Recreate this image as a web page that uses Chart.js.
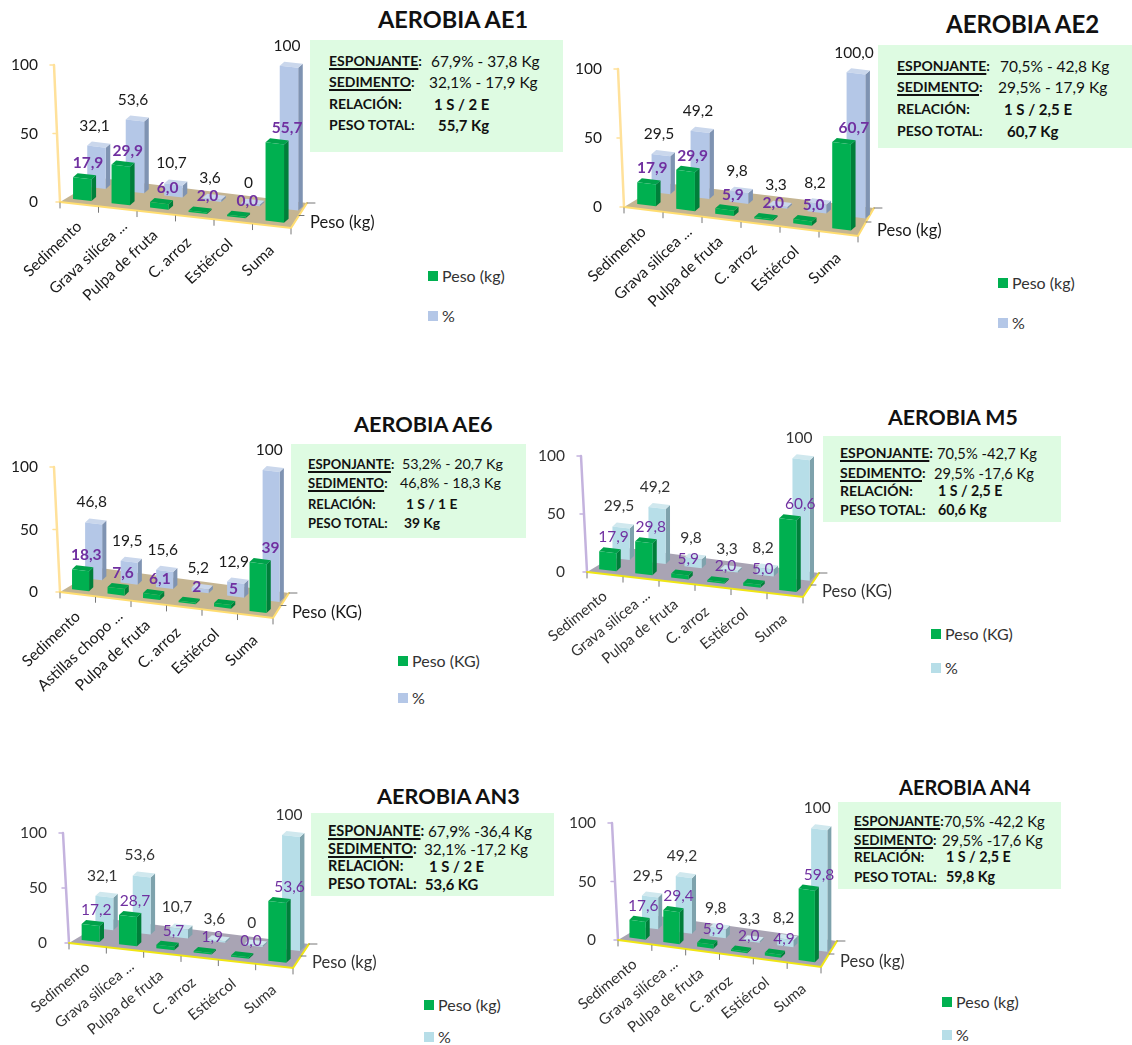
<!DOCTYPE html>
<html>
<head>
<meta charset="utf-8">
<title>Aerobia</title>
<script src="https://cdn.jsdelivr.net/npm/chart.js@4"></script>
<style>
  html, body { margin: 0; background: #fff; }
  #page { position: relative; width: 1132px; height: 1045px; overflow: hidden; font-family: Lato, sans-serif; color: #111; }
  #page canvas { position: absolute; }
  .title { position: absolute; font-weight: 700; white-space: nowrap; line-height: 1; }
  .box { position: absolute; background: #DEFBE2; }
  .txt { position: absolute; white-space: nowrap; line-height: 18px; }
  .txt.b { font-weight: 700; }
  .txt u { text-underline-offset: 2px; text-decoration-thickness: 1.5px; }
  .sq { position: absolute; width: 10px; height: 10px; }
  .lg { position: absolute; white-space: nowrap; line-height: 18px; font-size: 16px; color: #333; }
</style>
</head>
<body>
<div id="page"></div>
<script>
// categories
const categories = ['Sedimento', 'Grava silícea ...', 'Pulpa de fruta', 'C. arroz', 'Estiércol', 'Suma'];
const categoriesAE6 = ['Sedimento', 'Astillas chopo ...', 'Pulpa de fruta', 'C. arroz', 'Estiércol', 'Suma'];

// series values
const pesoAE1 = [17.9, 29.9, 6.0, 2.0, 0.0, 55.7];
const pctAE1 = [32.1, 53.6, 10.7, 3.6, 0, 100];
const pesoAE2 = [17.9, 29.9, 5.9, 2.0, 5.0, 60.7];
const pctAE2 = [29.5, 49.2, 9.8, 3.3, 8.2, 100.0];
const pesoAE6 = [18.3, 7.6, 6.1, 2, 5, 39];
const pctAE6 = [46.8, 19.5, 15.6, 5.2, 12.9, 100];
const pesoM5 = [17.9, 29.8, 5.9, 2.0, 5.0, 60.6];
const pctM5 = [29.5, 49.2, 9.8, 3.3, 8.2, 100];
const pesoAN3 = [17.2, 28.7, 5.7, 1.9, 0.0, 53.6];
const pctAN3 = [32.1, 53.6, 10.7, 3.6, 0, 100];
const pesoAN4 = [17.6, 29.4, 5.9, 2.0, 4.9, 59.8];
const pctAN4 = [29.5, 49.2, 9.8, 3.3, 8.2, 100];

// text box contents
const textAE1 = ['67,9% - 37,8 Kg', '32,1% - 17,9 Kg', '1 S / 2 E', '55,7 Kg'];
const textAE2 = ['70,5% - 42,8 Kg', '29,5% - 17,9 Kg', '1 S / 2,5 E', '60,7 Kg'];
const textAE6 = ['53,2% - 20,7 Kg', '46,8% - 18,3 Kg', '1 S / 1 E', '39 Kg'];
const textM5 = ['70,5% -42,7 Kg', '29,5% -17,6 Kg', '1 S / 2,5 E', '60,6 Kg'];
const textAN3 = ['67,9% -36,4 Kg', '32,1% -17,2 Kg', '1 S / 2 E', '53,6 KG'];
const textAN4 = ['70,5% -42,2 Kg', '29,5% -17,6 Kg', '1 S / 2,5 E', '59,8 Kg'];
const textKeys = ['ESPONJANTE', 'SEDIMENTO', 'RELACIÓN', 'PESO TOTAL'];

const warm = { floor: '#C5B592', edge: '#FFDD70', wall: '#FFE19A', pct: '#B4C7E7', pctSide: '#7F93B2', pctTop: '#CAD7EC', purpleWeight: 'bold', ink: '#1a1a1a', cat: 15.5 };
const cool = { floor: '#A9A4B4', edge: '#F0E614', wall: '#C4B3DE', pct: '#B7DEE8', pctSide: '#7EA2AC', pctTop: '#D0E8EE', purpleWeight: 'normal', ink: '#333', cat: 15 };

const panels = [
  { name: 'AEROBIA AE1', size: 23.5, tx: 378, ty: 20, cats: categories, peso: pesoAE1, pct: pctAE1, unit: 'Peso (kg)', text: textAE1, fixedPeso: true, fixedPct: false, look: warm, ang: 43, ks: 14, vs: 15.4,
    xl: 60, xr: 291, top: 65, y0: 202, drop: 26, box: [310, 40, 253, 112], tl: 329, lines: [61, 82, 104, 125], vals: [431, 429, 434, 438], lgx: 428, lgy: [276, 316] },
  { name: 'AEROBIA AE2', size: 24, tx: 946, ty: 24, cats: categories, peso: pesoAE2, pct: pctAE2, unit: 'Peso (kg)', text: textAE2, fixedPeso: true, fixedPct: true, look: warm, ang: 43, ks: 14, vs: 15.5,
    xl: 624, xr: 858, top: 69, y0: 207, drop: 29, box: [878, 45, 254, 103], tl: 897, lines: [66, 87, 109, 131], vals: [1000, 998, 1004, 1007], lgx: 998, lgy: [283, 323] },
  { name: 'AEROBIA AE6', size: 21.7, tx: 354, ty: 425, cats: categoriesAE6, peso: pesoAE6, pct: pctAE6, unit: 'Peso (KG)', text: textAE6, fixedPeso: false, fixedPct: false, look: warm, ang: 43, ks: 13, vs: 14.3,
    xl: 60, xr: 273, top: 467, y0: 592, drop: 26, box: [291, 444, 235, 94], tl: 308, lines: [464, 483, 504, 523], vals: [402, 400, 406, 404], lgx: 398, lgy: [661, 698] },
  { name: 'AEROBIA M5', size: 21.3, tx: 888, ty: 418, cats: categories, peso: pesoM5, pct: pctM5, unit: 'Peso (KG)', text: textM5, fixedPeso: true, fixedPct: false, look: cool, ang: 39, ks: 14, vs: 14.7,
    xl: 587, xr: 803, top: 456, y0: 572, drop: 25, box: [823, 436, 238, 86], tl: 840, lines: [453, 473, 491, 510], vals: [937, 934, 938, 938], lgx: 931, lgy: [634, 668] },
  { name: 'AEROBIA AN3', size: 21.7, tx: 377, ty: 797, cats: categories, peso: pesoAN3, pct: pctAN3, unit: 'Peso (kg)', text: textAN3, fixedPeso: true, fixedPct: false, look: cool, ang: 39, ks: 14.5, vs: 15.3,
    xl: 69, xr: 293, top: 833, y0: 943, drop: 25, box: [311, 813, 243, 83], tl: 328, lines: [831, 849, 866, 884], vals: [428, 424, 429, 425], lgx: 424, lgy: [1005, 1037] },
  { name: 'AEROBIA AN4', size: 20, tx: 899, ty: 787, cats: categories, peso: pesoAN4, pct: pctAN4, unit: 'Peso (kg)', text: textAN4, fixedPeso: true, fixedPct: false, look: cool, ang: 39, ks: 13.5, vs: 14.8,
    xl: 618, xr: 821, top: 823, y0: 940, drop: 27, box: [838, 802, 223, 87], tl: 854, lines: [821, 840, 857, 877], vals: [944, 942, 946, 946], lgx: 942, lgy: [1002, 1035] }
];

const GREEN = '#00B050', GREEN_SIDE = '#007F3A', GREEN_TOP = '#00A24A', PURPLE = '#7030A0';
const FONT = 'Lato, sans-serif';
// the rotated labels do not sit evenly under their bars in the original
const labelNudgeX = [2, 9, 1, -4, -1, 2];
const labelNudgeY = [0, -5, 0, 3, 0, 2];

function fmt(v, fixed) {
  return (fixed ? v.toFixed(1) : String(v)).replace('.', ',');
}

function poly(ctx, pts, color) {
  ctx.beginPath();
  pts.forEach((q, i) => i ? ctx.lineTo(q[0], q[1]) : ctx.moveTo(q[0], q[1]));
  ctx.closePath();
  ctx.fillStyle = color;
  ctx.fill();
}

// floor, leaning axis, 3D bars and value labels, all from the chart's scales
function make3d(p) {
  const look = p.look;
  const slope = c => p.drop / (c.chartArea.right - c.chartArea.left);
  const floorY = (c, x) => c.chartArea.bottom + slope(c) * (x - c.chartArea.left);

  function box(c, el, back) {
    const a = c.chartArea;
    const step = (a.right - a.left) / p.cats.length;
    const k = step / 38;
    const cx = el.x + (back ? 17 : 3) * k;
    const off = (back ? 18 : 4.5) * k;
    const t = (el.x - a.left) / (a.right - a.left);
    const H = (el.base - el.y) * (1 + 0.07 * t);
    const h = Math.max(H - 3, 1.5);
    const xL = cx - el.width / 2, xR = cx + el.width / 2;
    return { cx, t, h, xL, xR, bl: floorY(c, xL) - off, br: floorY(c, xR) - off, sx: 4.5 * k, sy: 4 };
  }

  return {
    id: 'bars3d',
    beforeDatasetsDraw(c) {
      const ctx = c.ctx, a = c.chartArea, y = c.scales.y;
      const fr = [a.right, a.bottom + p.drop];
      const br = [a.right + 16, a.bottom + 1];
      const bl = [a.left + 40, a.bottom - 24];
      ctx.save();
      poly(ctx, [[a.left, a.bottom], bl, br, fr], look.floor);
      ctx.lineCap = 'round';
      // wall axis
      ctx.strokeStyle = look.wall;
      ctx.lineWidth = 2.5;
      ctx.beginPath();
      ctx.moveTo(a.left, a.bottom);
      ctx.lineTo(a.left - 6, a.top);
      ctx.stroke();
      ctx.lineWidth = 1.5;
      y.ticks.forEach(tk => {
        const py = y.getPixelForValue(tk.value);
        const px = a.left - 6 * (a.bottom - py) / (a.bottom - a.top);
        ctx.beginPath();
        ctx.moveTo(px - 4, py);
        ctx.lineTo(px, py);
        ctx.stroke();
      });
      // front and side edge of the floor
      ctx.strokeStyle = look.edge;
      ctx.lineWidth = 2;
      ctx.beginPath();
      ctx.moveTo(a.left, a.bottom);
      ctx.lineTo(fr[0], fr[1]);
      ctx.lineTo(br[0], br[1]);
      ctx.stroke();
      // tick marks
      ctx.strokeStyle = '#777';
      ctx.lineWidth = 1;
      for (let i = 0; i <= p.cats.length; i++) {
        const px = a.left + i * (a.right - a.left) / p.cats.length;
        const py = floorY(c, px);
        ctx.beginPath();
        ctx.moveTo(px, py + 1);
        ctx.lineTo(px, py + 6);
        ctx.stroke();
      }
      [[br[0], br[1], 8], [(br[0] + fr[0]) / 2, (br[1] + fr[1]) / 2, 5]].forEach(q => {
        ctx.beginPath();
        ctx.moveTo(q[0], q[1]);
        ctx.lineTo(q[0] + q[2], q[1]);
        ctx.stroke();
      });
      // category labels follow the sloped front edge
      const x = c.scales.x;
      ctx.fillStyle = look.ink;
      ctx.font = look.cat + 'px ' + FONT;
      ctx.textAlign = 'right';
      ctx.textBaseline = 'middle';
      p.cats.forEach((lab, i) => {
        const px = x.getPixelForTick(i);
        ctx.save();
        ctx.translate(px - 2 + labelNudgeX[i], floorY(c, px) + 20 + labelNudgeY[i]);
        ctx.rotate(-p.ang * Math.PI / 180);
        ctx.fillText(lab, 0, 0);
        ctx.restore();
      });
      // depth axis name
      ctx.textAlign = 'left';
      ctx.font = '16.5px ' + FONT;
      ctx.fillText(p.unit, fr[0] + 19, fr[1] - 5);
      ctx.restore();
    },
    beforeDatasetDraw(c, args) {
      const ctx = c.ctx, back = args.index === 1;
      const front = back ? look.pct : GREEN;
      const side = back ? look.pctSide : GREEN_SIDE;
      const topc = back ? look.pctTop : GREEN_TOP;
      args.meta.data.forEach(el => {
        const b = box(c, el, back);
        poly(ctx, [[b.xR, b.br], [b.xR + b.sx, b.br - b.sy], [b.xR + b.sx, b.br - b.sy - b.h], [b.xR, b.br - b.h]], side);
        poly(ctx, [[b.xL, b.bl - b.h], [b.xR, b.br - b.h], [b.xR + b.sx, b.br - b.h - b.sy], [b.xL + b.sx, b.bl - b.h - b.sy]], topc);
        poly(ctx, [[b.xL, b.bl], [b.xR, b.br], [b.xR, b.br - b.h], [b.xL, b.bl - b.h]], front);
      });
      return false;
    },
    afterDatasetsDraw(c) {
      const ctx = c.ctx;
      ctx.save();
      ctx.textAlign = 'center';
      ctx.textBaseline = 'middle';
      ctx.fillStyle = look.ink;
      ctx.font = '15.5px ' + FONT;
      c.getDatasetMeta(1).data.forEach((el, i) => {
        const b = box(c, el, true);
        ctx.fillText(fmt(p.pct[i], p.fixedPct), b.cx - 2, b.br - b.h - b.sy - 18);
      });
      ctx.fillStyle = PURPLE;
      ctx.font = look.purpleWeight + ' 15.5px ' + FONT;
      c.getDatasetMeta(0).data.forEach((el, i) => {
        const b = box(c, el, false);
        ctx.fillText(fmt(p.peso[i], p.fixedPeso), b.cx + 5 + 8 * b.t, b.br - b.h - b.sy - 12);
      });
      ctx.restore();
    }
  };
}

const page = document.getElementById('page');

function addDiv(cls, left, top, html) {
  const d = document.createElement('div');
  d.className = cls;
  d.style.left = left + 'px';
  d.style.top = top + 'px';
  d.innerHTML = html;
  page.appendChild(d);
  return d;
}

panels.forEach(p => {
  const title = addDiv('title', p.tx, p.ty - p.size / 2, p.name);
  title.style.fontSize = p.size + 'px';

  const bx = addDiv('box', p.box[0], p.box[1], '');
  bx.style.width = p.box[2] + 'px';
  bx.style.height = p.box[3] + 'px';

  textKeys.forEach((k, i) => {
    const key = i < 2 ? '<u>' + k + '</u>:' : k + ':';
    addDiv('txt b', p.tl, p.lines[i] - 9, key).style.fontSize = p.ks + 'px';
    addDiv('txt' + (i > 1 ? ' b' : ''), p.vals[i], p.lines[i] - 9, p.text[i]).style.fontSize = (i > 1 ? p.vs - 0.5 : p.vs) + 'px';
  });

  // chart canvas: the plot area lands exactly on the floor corners
  const padL = 60, padT = 40;
  const plotW = p.xr - p.xl, plotH = p.y0 - p.top;
  const W = plotW + padL + 100, H = plotH + padT + 125;
  const cv = document.createElement('canvas');
  cv.width = W;
  cv.height = H;
  cv.style.left = (p.xl - padL) + 'px';
  cv.style.top = (p.top - padT) + 'px';
  page.appendChild(cv);

  const chart = new Chart(cv, {
    type: 'bar',
    data: {
      labels: p.cats,
      datasets: [
        { label: p.unit, data: p.peso, backgroundColor: GREEN },
        { label: '%', data: p.pct, backgroundColor: p.look.pct }
      ]
    },
    options: {
      responsive: false,
      animation: false,
      layout: { padding: { left: 0, top: padT, right: W - padL - plotW, bottom: H - padT - plotH } },
      datasets: { bar: { grouped: false, barPercentage: 0.48, categoryPercentage: 1 } },
      scales: {
        x: {
          grid: { display: false },
          border: { display: false },
          ticks: { display: false },
          afterFit: s => { s.height = 0; }
        },
        y: {
          min: 0,
          max: 100,
          grid: { display: false },
          border: { display: false },
          ticks: { stepSize: 50, padding: 14, color: p.look.ink, font: { family: FONT, size: 15.5 } },
          afterFit: s => { s.width = padL; }
        }
      },
      plugins: { legend: { display: false }, tooltip: { enabled: false } }
    },
    plugins: [make3d(p)]
  });

  // legend built from the chart's datasets
  chart.data.datasets.forEach((ds, i) => {
    const sq = addDiv('sq', p.lgx, p.lgy[i] - 5, '');
    sq.style.background = ds.backgroundColor;
    addDiv('lg', p.lgx + 14, p.lgy[i] - 9, ds.label);
  });
});
</script>
</body>
</html>
